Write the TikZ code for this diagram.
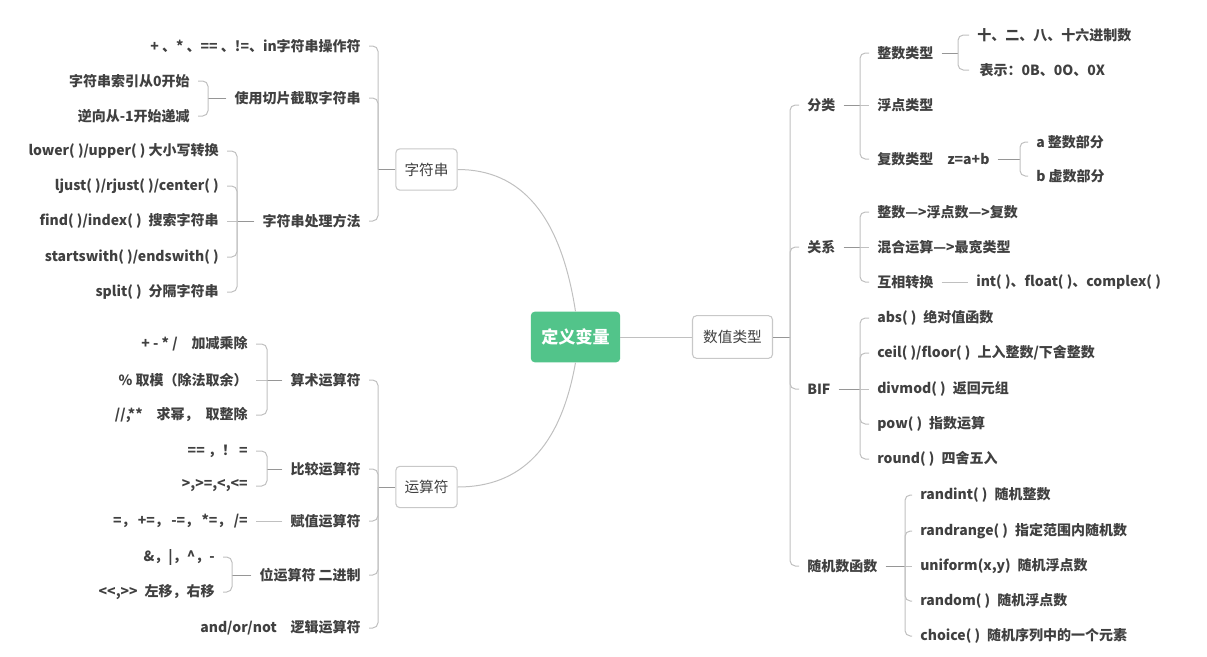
\documentclass[tikz,border=0pt]{standalone}
\usepackage{fontspec}
\setmainfont{Noto Sans CJK SC}
\definecolor{RootGreen}{RGB}{82,196,138}
\definecolor{TextGray}{RGB}{64,64,64}
\definecolor{LineGray}{RGB}{192,192,192}
\definecolor{StubGray}{RGB}{150,150,150}
\definecolor{BoxGray}{RGB}{200,200,200}

\begin{document}
\begin{tikzpicture}[x=0.75pt,y=-0.75pt,
  txt/.style={inner xsep=6pt,inner ysep=2pt,text=TextGray,font=\fontsize{10.5}{13}\selectfont\bfseries},
  leafL/.style={txt,anchor=east},
  leafR/.style={txt,anchor=west},
  topic/.style={draw=BoxGray,line width=0.8pt,rounded corners=3pt,fill=white,text=TextGray,font=\fontsize{11}{13}\selectfont,minimum width=46pt,minimum height=31pt},
  rootbox/.style={fill=RootGreen,rounded corners=3pt,text=white,font=\fontsize{12.8}{15}\selectfont\bfseries,minimum width=67pt,minimum height=38pt},
  link/.style={draw=LineGray,line width=0.75pt,rounded corners=4pt},
  stub/.style={draw=StubGray,line width=0.75pt},
  arc/.style={draw=LineGray,line width=0.75pt}]
  \useasboundingbox (0,0) rectangle (1207,657);

  \node[rootbox] (root) at (575.5,337) {定义变量};
  \node[topic] (str) at (426.5,169.5) {字符串};
  \node[topic] (ops) at (426.5,487) {运算符};
  \node[topic,minimum width=60pt,minimum height=32pt] (num) at (732.5,337) {数值类型};
  \draw[arc] (root.north) .. controls +(-15,-97) and +(63,0) .. (str.east);
  \draw[arc] (root.south) .. controls +(-15,85) and +(63,0) .. (ops.east);
  \draw[arc] (root) -- (num);

  \coordinate (jS) at (378,169.5);
  \draw[stub] (str.west) -- (jS);
  \foreach \n/\y/\t in {s1/46/{+ 、* 、== 、!=、in字符串操作符}, s2/98/{使用切片截取字符串}, s3/221/{字符串处理方法}}{
    \node[leafL] (\n) at (369,\y) {\t};
    \draw[link] (jS) |- (\n.east);
  }
  \coordinate (jS2) at (208,98);
  \draw[stub] (s2.west) -- (jS2);
  \foreach \n/\y/\t in {s21/81/{字符串索引从0开始}, s22/116/{逆向从-1开始递减}}{
    \node[leafL] (\n) at (198,\y) {\t};
    \draw[link] (jS2) |- (\n.east);
  }
  \coordinate (jS3) at (237,221);
  \draw[stub] (s3.west) -- (jS3);
  \foreach \n/\y/\t in {s31/151/{lower( )/upper( ) 大小写转换}, s32/186/{ljust( )/rjust( )/center( )}, s34/257/{startswith( )/endswith( )}, s35/292/{split( )\enspace 分隔字符串}}{
    \node[leafL] (\n) at (227,\y) {\t};
    \draw[link] (jS3) |- (\n.east);
  }
  \node[leafL] (s33) at (227,221) {find( )/index( )\enspace 搜索字符串};
  \draw[link] (jS3) -- (s33.east);

  \coordinate (jO) at (378,487);
  \draw[stub] (ops.west) -- (jO);
  \foreach \n/\y/\t in {o1/380/{算术运算符}, o2/469/{比较运算符}, o3/521/{赋值运算符}, o4/575/{位运算符 二进制}, o5/628/{and/or/not\quad 逻辑运算符}}{
    \node[leafL] (\n) at (369,\y) {\t};
    \draw[link] (jO) |- (\n.east);
  }
  \coordinate (jO1) at (267,380);
  \draw[stub] (o1.west) -- (jO1);
  \foreach \n/\y/\t in {o11/344/{+ - * /\quad 加减乘除}, o13/415/{//,**\quad 求幂，\enspace 取整除}}{
    \node[leafL] (\n) at (256,\y) {\t};
    \draw[link] (jO1) |- (\n.east);
  }
  \node[leafL] (o12) at (256,380) {\% 取模（除法取余）};
  \draw[link] (jO1) -- (o12.east);
  \coordinate (jO2) at (267,469);
  \draw[stub] (o2.west) -- (jO2);
  \foreach \n/\y/\t in {o21/451/{== ，！ =}, o22/486/{>,>=,<,<=}}{
    \node[leafL] (\n) at (256,\y) {\t};
    \draw[link] (jO2) |- (\n.east);
  }
  \node[leafL] (o31) at (256,521) {=，\,+=，\,-=，\,*=，\,/=};
  \draw[link] (o3.west) -- (o31.east);
  \coordinate (jO4) at (232,575);
  \draw[stub] (o4.west) -- (jO4);
  \foreach \n/\y/\t in {o41/557/{\&，|，\textasciicircum，-}, o42/592/{<{}<,>{}>\enspace 左移，右移}}{
    \node[leafL] (\n) at (223,\y) {\t};
    \draw[link] (jO4) |- (\n.east);
  }

  \coordinate (jN) at (790,337);
  \draw[stub] (num.east) -- (jN);
  \foreach \n/\y/\t in {n1/105/{分类}, n2/247/{关系}, n3/389/{BIF}, n4/566/{随机数函数}}{
    \node[leafR] (\n) at (799,\y) {\t};
    \draw[link] (jN) |- (\n.west);
  }
  \coordinate (jN1) at (860,105);
  \draw[stub] (n1.east) -- (jN1);
  \foreach \n/\y/\t in {n11/53/{整数类型}, n13/159/{复数类型\quad z=a+b}}{
    \node[leafR] (\n) at (869,\y) {\t};
    \draw[link] (jN1) |- (\n.west);
  }
  \node[leafR] (n12) at (869,105) {浮点类型};
  \draw[link] (jN1) -- (n12.west);
  \coordinate (jN11) at (958,53);
  \draw[stub] (n11.east) -- (jN11);
  \foreach \n/\y/\t in {n111/35/{十、二、八、十六进制数}, n112/70/{\,表示：0B、0O、0X}}{
    \node[leafR] (\n) at (969,\y) {\t};
    \draw[link] (jN11) |- (\n.west);
  }
  \coordinate (jN13) at (1020,159);
  \draw[stub] (n13.east) -- (jN13);
  \foreach \n/\y/\t in {n131/142/{a 整数部分}, n132/176/{b 虚数部分}}{
    \node[leafR] (\n) at (1028,\y) {\t};
    \draw[link] (jN13) |- (\n.west);
  }
  \coordinate (jN2) at (860,247);
  \draw[stub] (n2.east) -- (jN2);
  \foreach \n/\y/\t in {n21/212/{整数—>浮点数—>复数}, n23/282/{互相转换}}{
    \node[leafR] (\n) at (869,\y) {\t};
    \draw[link] (jN2) |- (\n.west);
  }
  \node[leafR] (n22) at (869,247) {混合运算—>最宽类型};
  \draw[link] (jN2) -- (n22.west);
  \node[leafR] (n231) at (968,282) {int( )、float( )、complex( )};
  \draw[link] (n23.east) -- (n231.west);
  \coordinate (jN3) at (860,389);
  \draw[stub] (n3.east) -- (jN3);
  \foreach \n/\y/\t in {n31/318/{abs( )\enspace 绝对值函数}, n32/353/{ceil( )/floor( )\enspace 上入整数/下舍整数}, n34/424/{pow( )\enspace 指数运算}, n35/459/{round( )\enspace 四舍五入}}{
    \node[leafR] (\n) at (869,\y) {\t};
    \draw[link] (jN3) |- (\n.west);
  }
  \node[leafR] (n33) at (869,389) {divmod( )\enspace 返回元组};
  \draw[link] (jN3) -- (n33.west);
  \coordinate (jN4) at (905,566);
  \draw[stub] (n4.east) -- (jN4);
  \foreach \n/\y/\t in {n41/495/{randint( )\enspace 随机整数}, n42/531/{randrange( )\enspace 指定范围内随机数}, n44/601/{random( )\enspace 随机浮点数}, n45/636/{choice( )\enspace 随机序列中的一个元素}}{
    \node[leafR] (\n) at (912,\y) {\t};
    \draw[link] (jN4) |- (\n.west);
  }
  \node[leafR] (n43) at (912,566) {uniform(x,y)\enspace 随机浮点数};
  \draw[link] (jN4) -- (n43.west);
\end{tikzpicture}
\end{document}
